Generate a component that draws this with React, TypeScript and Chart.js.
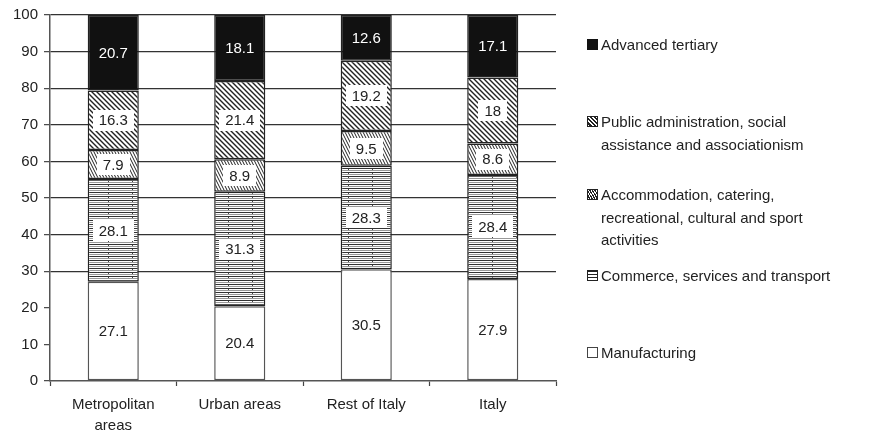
import React, { useEffect, useRef } from "react";
import { Chart, registerables } from "chart.js";

Chart.register(...registerables);

const FONT = '"Liberation Sans", Arial, Helvetica, sans-serif';

const categories: (string | string[])[] = [["Metropolitan", "areas"], "Urban areas", "Rest of Italy", "Italy"];
const seriesNames = [
  "Manufacturing",
  "Commerce, services and transport",
  "Accommodation, catering, recreational, cultural and sport activities",
  "Public administration, social assistance and associationism",
  "Advanced tertiary",
];
const manufacturing = [27.1, 20.4, 30.5, 27.9];
const commerce = [28.1, 31.3, 28.3, 28.4];
const accommodation = [7.9, 8.9, 9.5, 8.6];
const publicAdmin = [16.3, 21.4, 19.2, 18];
const advanced = [20.7, 18.1, 12.6, 17.1];
const yTickValues = [0, 10, 20, 30, 40, 50, 60, 70, 80, 90, 100];

const legendLines: string[][] = [
  ["Advanced tertiary"],
  ["Public administration, social", "assistance and associationism"],
  ["Accommodation, catering,", "recreational, cultural and sport", "activities"],
  ["Commerce, services and transport"],
  ["Manufacturing"],
];
const legendKinds = ["black", "diag", "diagDense", "horiz", "white"];
const legendTops = [34, 111, 184, 265, 342];

function makePattern(kind: string): CanvasPattern | string {
  const c = document.createElement("canvas");
  const g = c.getContext("2d")!;
  if (kind === "diag") {
    c.width = 5; c.height = 5;
    g.fillStyle = "#fff"; g.fillRect(0, 0, 5, 5);
    g.strokeStyle = "#222"; g.lineWidth = 1.4;
    g.beginPath();
    g.moveTo(-1, -1); g.lineTo(6, 6);
    g.moveTo(4, -1); g.lineTo(6, 1);
    g.moveTo(-1, 4); g.lineTo(1, 6);
    g.stroke();
  } else if (kind === "diagDense") {
    c.width = 3; c.height = 6;
    g.fillStyle = "#fff"; g.fillRect(0, 0, 3, 6);
    g.strokeStyle = "#222"; g.lineWidth = 1;
    g.beginPath();
    g.moveTo(-0.5, -1); g.lineTo(3.5, 7);
    g.moveTo(2.5, -1); g.lineTo(3.5, 1);
    g.moveTo(-0.5, 5); g.lineTo(0.5, 7);
    g.stroke();
  } else if (kind === "horiz") {
    c.width = 24; c.height = 4;
    g.fillStyle = "#fff"; g.fillRect(0, 0, 24, 4);
    g.fillStyle = "#333"; g.fillRect(0, 0, 24, 1);
    g.fillStyle = "#999"; g.fillRect(0, 2, 24, 1);
    g.fillStyle = "#444"; g.fillRect(12, 1, 1, 1);
    return g.createPattern(c, "repeat")!;
  } else {
    return kind === "black" ? "#111" : "#fff";
  }
  return g.createPattern(c, "repeat")!;
}

const labelPlugin = {
  id: "segLabels",
  afterDatasetsDraw(chart: any) {
    const ctx = chart.ctx as CanvasRenderingContext2D;
    const area = chart.chartArea;
    ctx.save();
    ctx.font = `15px ${FONT}`;
    ctx.textAlign = "center";
    ctx.textBaseline = "middle";
    chart.data.datasets.forEach((ds: any, di: number) => {
      const meta = chart.getDatasetMeta(di);
      meta.data.forEach((el: any, i: number) => {
        const p = el.getProps(["x", "y", "base"], true);
        const top = Math.max(p.y, area.top);
        const cy = (top + p.base) / 2;
        const txt = String(ds.data[i]);
        const w = ctx.measureText(txt).width;
        if (di === 4) {
          ctx.fillStyle = "#fff";
          ctx.fillText(txt, p.x, cy + 1);
        } else {
          ctx.fillStyle = "#fff";
          ctx.fillRect(Math.round(p.x - w / 2 - 6), Math.round(cy - 10.5), Math.round(w + 12), 21);
          ctx.fillStyle = "#222";
          ctx.fillText(txt, p.x, cy + 1);
        }
      });
    });
    ctx.restore();
  },
};

function swatchStyle(kind: string): React.CSSProperties {
  const base: React.CSSProperties = {
    position: "absolute",
    left: 587,
    width: 9,
    height: 9,
    border: "1px solid #222",
    boxSizing: "content-box",
  };
  if (kind === "black") return { ...base, background: "#111", border: "1px solid #111" };
  if (kind === "diag")
    return { ...base, background: "repeating-linear-gradient(45deg, #fff 0 1.4px, #222 1.4px 3px)" };
  if (kind === "diagDense")
    return { ...base, background: "repeating-linear-gradient(60deg, #fff 0 1px, #222 1px 2.2px)" };
  if (kind === "horiz")
    return { ...base, background: "repeating-linear-gradient(0deg, #fff 0 1.5px, #222 1.5px 3px)" };
  return { ...base, background: "#fff", border: "1px solid #444" };
}

export default function App() {
  const ref = useRef<HTMLCanvasElement>(null);

  useEffect(() => {
    document.body.style.margin = "0";
    const canvas = ref.current!;
    const kinds = ["white", "horiz", "diagDense", "diag", "black"];
    const values = [manufacturing, commerce, accommodation, publicAdmin, advanced];
    const datasets = values.map((v, i) => ({
      label: seriesNames[i],
      data: v,
      backgroundColor: makePattern(kinds[i]) as any,
      borderColor: i === 0 ? "#555" : "#222",
      borderWidth: 1.5,
      borderSkipped: false as any,
      categoryPercentage: 1,
      barPercentage: 0.404,
    }));

    const chart = new Chart(canvas, {
      type: "bar",
      data: { labels: categories as any, datasets },
      options: {
        animation: false,
        responsive: false,
        devicePixelRatio: 1,
        layout: { padding: { top: 14, right: 324, left: 0, bottom: 0 } },
        plugins: { legend: { display: false }, tooltip: { enabled: false } },
        scales: {
          x: {
            stacked: true,
            offset: true,
            grid: {
              offset: true,
              drawOnChartArea: false,
              drawTicks: true,
              tickLength: 5,
              tickColor: "#444",
              tickWidth: 1.2,
            },
            border: { color: "#555", width: 1.5 },
            ticks: {
              color: "#222",
              font: { family: FONT, size: 15, lineHeight: 1.4 },
              padding: 8,
              maxRotation: 0,
              autoSkip: false,
            },
            afterFit: (s: any) => {
              s.height = 55;
            },
          },
          y: {
            stacked: true,
            min: 0,
            max: 100,
            afterBuildTicks: (s: any) => {
              s.ticks = yTickValues.map((v) => ({ value: v }));
            },
            grid: {
              color: (c: any) => (c.tick && c.tick.value >= 30 ? "#333" : "rgba(0,0,0,0)"),
              lineWidth: 1.3,
              tickLength: 6,
              tickColor: "#444",
              tickWidth: 1.2,
            },
            border: { color: "#555", width: 1.5 },
            ticks: {
              color: "#222",
              font: { family: FONT, size: 15 },
              padding: 6,
            },
            afterFit: (s: any) => {
              s.width = 50;
            },
          },
        },
      },
      plugins: [labelPlugin],
    });
    return () => chart.destroy();
  }, []);

  return (
    <div style={{ position: "relative", width: 880, height: 436, fontFamily: FONT, color: "#222" }}>
      <canvas ref={ref} width={880} height={436} style={{ display: "block" }} />
      {legendLines.map((lines, i) => (
        <React.Fragment key={i}>
          <div style={{ ...swatchStyle(legendKinds[i]), top: legendTops[i] + 5 }} />
          <div
            style={{
              position: "absolute",
              left: 601,
              top: legendTops[i],
              fontSize: 15,
              lineHeight: "22.5px",
              whiteSpace: "nowrap",
            }}
          >
            {lines.map((l, j) => (
              <div key={j}>{l}</div>
            ))}
          </div>
        </React.Fragment>
      ))}
    </div>
  );
}
